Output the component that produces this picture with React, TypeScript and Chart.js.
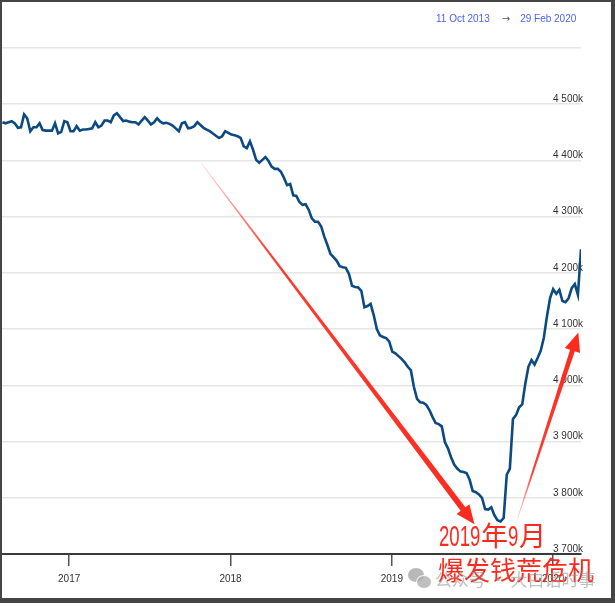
import React, { useEffect, useRef } from 'react';
import { Chart, registerables } from 'chart.js';

Chart.register(...registerables);

// ---- data ----
const FIRST_WEEK = '2016-08-03'; // weekly (Wednesday) observations
const AXIS_START = '2016-08-02';
const AXIS_END = '2020-03-04';
const yearTicks = [2017, 2018, 2019, 2020];
const yMin = 3700;
const yMax = 4600;
const yStep = 100;

// total assets, thousands (k) of millions, one per week
const totalAssets = [
  4468, 4466, 4468, 4470, 4466, 4458, 4459, 4482, 4475, 4452,
  4459, 4459, 4466, 4454, 4453, 4453, 4453, 4466, 4448, 4451,
  4470, 4468, 4452, 4452, 4461, 4453, 4455, 4455, 4456, 4457,
  4468, 4459, 4462, 4471, 4471, 4468, 4480, 4484, 4477, 4470,
  4471, 4469, 4468, 4468, 4464, 4471, 4477, 4471, 4464, 4468,
  4475, 4469, 4466, 4467, 4465, 4462, 4457, 4452, 4466, 4468,
  4457, 4458, 4461, 4468, 4463, 4458, 4455, 4452, 4448, 4444,
  4440, 4443, 4452, 4449, 4446, 4445, 4443, 4440, 4425, 4422,
  4434, 4419, 4401, 4396, 4401, 4406, 4399, 4389, 4385, 4385,
  4380, 4369, 4356, 4358, 4338, 4337, 4326, 4321, 4322, 4312,
  4297, 4291, 4291, 4283, 4265, 4250, 4234, 4228, 4222, 4212,
  4210, 4209, 4198, 4177, 4175, 4174, 4168, 4139, 4141, 4145,
  4125, 4100, 4089, 4086, 4084, 4078, 4060, 4057, 4052, 4047,
  4041, 4033, 4027, 3997, 3976, 3970, 3969, 3965, 3956, 3944,
  3933, 3931, 3927, 3899, 3888, 3872, 3859, 3852, 3847, 3846,
  3844, 3832, 3812, 3810, 3806, 3800, 3780, 3779, 3783, 3769,
  3760, 3758, 3764, 3841, 3852, 3940, 3947, 3961, 3966, 4003,
  4033, 4045, 4037, 4049, 4062, 4085, 4123, 4155, 4171, 4163,
  4170, 4150, 4148, 4155, 4173, 4180, 4161, 4242,
];

const rangeFrom = '11 Oct 2013';
const rangeArrow = '→';
const rangeTo = '29 Feb 2020';
const noteYear = '2019';
const noteYearChar = '年';
const noteMonth = '9';
const noteMonthChar = '月';
const noteLine2 = '爆发钱荒危机';
const watermarkText = '公众号 · 大白话时事';

// annotation arrows in data space: [date, value]
const arrows: { from: [string, number]; to: [string, number]; w: number; fade: boolean }[] = [
  { from: ['2017-10-26', 4396], to: ['2019-07-07', 3753], w: 3.0, fade: true },
  { from: ['2019-10-12', 3762], to: ['2020-02-27', 4094], w: 2.5, fade: true },
];

const DAY = 86400000;
const ts = (d: string) => Date.parse(d + 'T00:00:00Z');
const firstWeek = ts(FIRST_WEEK);
const points = totalAssets.map((v, i) => ({ x: firstWeek + i * 7 * DAY, y: v }));

const fmtK = (v: number) => {
  const th = Math.floor(v / 1000);
  const rest = String(Math.round(v % 1000)).padStart(3, '0');
  return `${th} ${rest}k`;
};

const RED = '#fb2a1d';

const arrowPlugin = {
  id: 'redArrows',
  afterDatasetsDraw(chart: any) {
    const { ctx, scales } = chart;
    const xs = scales.x;
    const ys = scales.y;
    arrows.forEach((a) => {
      const sx = xs.getPixelForValue(ts(a.from[0]));
      const sy = ys.getPixelForValue(a.from[1]);
      const tx = xs.getPixelForValue(ts(a.to[0]));
      const ty = ys.getPixelForValue(a.to[1]);
      const dx = tx - sx;
      const dy = ty - sy;
      const len = Math.hypot(dx, dy);
      const ux = dx / len;
      const uy = dy / len;
      const nx = -uy;
      const ny = ux;
      const headL = 19;
      const headW = 8;
      const bx = tx - ux * headL;
      const by = ty - uy * headL;
      ctx.save();
      const g = ctx.createLinearGradient(sx, sy, tx, ty);
      if (a.fade) {
        g.addColorStop(0, 'rgba(251,42,29,0.15)');
        g.addColorStop(0.25, 'rgba(251,42,29,0.9)');
        g.addColorStop(1, RED);
      } else {
        g.addColorStop(0, RED);
        g.addColorStop(1, RED);
      }
      ctx.fillStyle = g;
      ctx.beginPath();
      ctx.moveTo(sx + nx * 0.4, sy + ny * 0.4);
      ctx.lineTo(bx + nx * a.w, by + ny * a.w);
      ctx.lineTo(bx + nx * headW, by + ny * headW);
      ctx.lineTo(tx, ty);
      ctx.lineTo(bx - nx * headW, by - ny * headW);
      ctx.lineTo(bx - nx * a.w, by - ny * a.w);
      ctx.lineTo(sx - nx * 0.4, sy - ny * 0.4);
      ctx.closePath();
      ctx.fill();
      ctx.restore();
    });
  },
};

function FedChart() {
  const ref = useRef<HTMLCanvasElement | null>(null);
  useEffect(() => {
    if (!ref.current) return;
    const chart = new Chart(ref.current, {
      type: 'line',
      data: {
        datasets: [
          {
            data: points,
            borderColor: '#0c4a82',
            borderWidth: 2.6,
            pointRadius: 0,
            tension: 0,
            fill: false,
          },
        ],
      },
      options: {
        animation: false,
        responsive: false,
        parsing: false as any,
        layout: { padding: { left: 2, right: 30, top: 48, bottom: 14 } },
        plugins: { legend: { display: false }, tooltip: { enabled: false } },
        scales: {
          x: {
            type: 'linear',
            min: ts(AXIS_START),
            max: ts(AXIS_END),
            afterBuildTicks: (axis: any) => {
              axis.ticks = yearTicks.map((yr) => ({ value: Date.UTC(yr, 0, 1) }));
            },
            ticks: {
              autoSkip: false,
              maxRotation: 0,
              padding: 7,
              color: '#333',
              font: { family: '"Liberation Sans", Arial, sans-serif', size: 10 },
              callback: (v: any) => String(new Date(Number(v)).getUTCFullYear()),
            },
            grid: {
              display: true,
              drawOnChartArea: false,
              drawTicks: true,
              tickLength: 12,
              color: '#555',
              lineWidth: 1.5,
            },
            border: { display: true, color: '#3a3a3a', width: 2 },
          },
          y: {
            type: 'linear',
            position: 'right',
            min: yMin,
            max: yMax,
            ticks: {
              stepSize: yStep,
              mirror: true,
              padding: 2,
              labelOffset: -5,
              color: '#333',
              font: { family: '"Liberation Sans", Arial, sans-serif', size: 10 },
              callback: (v: any) => (Number(v) >= yMax ? '' : fmtK(Number(v))),
            },
            grid: { color: '#e6e6e6', lineWidth: 1.5, drawTicks: false },
            border: { display: false },
          },
        },
      },
      plugins: [arrowPlugin],
    });
    return () => chart.destroy();
  }, []);
  return <canvas ref={ref} width={615} height={606} style={{ position: 'absolute', left: 0, top: 0 }} />;
}

export default function App() {
  const digit: React.CSSProperties = {
    display: 'inline-block',
    fontFamily: '"Liberation Sans", Arial, sans-serif',
    fontSize: 30,
    transformOrigin: '0 0',
    overflow: 'visible',
  };
  return (
    <div
      style={{
        position: 'fixed',
        left: 0,
        top: 0,
        width: 615,
        height: 606,
        background: '#fff',
        overflow: 'hidden',
      }}
    >
      <FedChart />
      <div
        style={{
          position: 'absolute',
          left: 436,
          top: 13,
          fontFamily: '"Liberation Sans", Arial, sans-serif',
          fontSize: 10,
          whiteSpace: 'nowrap',
          lineHeight: '12px',
        }}
      >
        <span style={{ color: '#4a63f2' }}>{rangeFrom}</span>
        <span style={{ color: '#555', margin: '0 10px 0 12px', fontFamily: '"DejaVu Sans", sans-serif' }}>{rangeArrow}</span>
        <span style={{ color: '#4a63f2' }}>{rangeTo}</span>
      </div>
      {/* red annotation text */}
      <div
        style={{
          position: 'absolute',
          left: 439,
          top: 518,
          color: RED,
          fontFamily: '"Noto Sans CJK SC", sans-serif',
          fontSize: 27,
          lineHeight: '34px',
          whiteSpace: 'nowrap',
        }}
      >
        <span style={{ ...digit, width: 42, transform: 'scaleX(0.62)' }}>{noteYear}</span>
        <span>{noteYearChar}</span>
        <span style={{ ...digit, width: 11, transform: 'scaleX(0.62)' }}>{noteMonth}</span>
        <span>{noteMonthChar}</span>
      </div>
      <div
        style={{
          position: 'absolute',
          left: 438,
          top: 552,
          color: RED,
          fontFamily: '"Noto Sans CJK SC", sans-serif',
          fontSize: 26,
          lineHeight: '34px',
          whiteSpace: 'nowrap',
        }}
      >
        {noteLine2}
      </div>
      {/* watermark */}
      <div style={{ position: 'absolute', left: 408, top: 568, width: 16, height: 14, borderRadius: '50%', background: 'rgba(160,160,160,0.75)' }} />
      <div style={{ position: 'absolute', left: 416, top: 575, width: 14, height: 12, borderRadius: '50%', background: 'rgba(175,175,175,0.8)', border: '1px solid rgba(255,255,255,0.9)' }} />
      <div
        style={{
          position: 'absolute',
          left: 435,
          top: 567,
          color: 'rgba(150,150,150,0.6)',
          fontFamily: '"Noto Sans CJK SC", sans-serif',
          fontSize: 17,
          lineHeight: '24px',
          whiteSpace: 'nowrap',
        }}
      >
        {watermarkText}
      </div>
      {/* window frame */}
      <div
        style={{
          position: 'absolute',
          left: 0,
          top: 0,
          width: 615,
          height: 603,
          boxSizing: 'border-box',
          borderLeft: '2px solid #454545',
          borderTop: '2px solid #454545',
          borderRight: '4px solid #454545',
          borderBottom: '5px solid #454545',
          pointerEvents: 'none',
        }}
      />
    </div>
  );
}
